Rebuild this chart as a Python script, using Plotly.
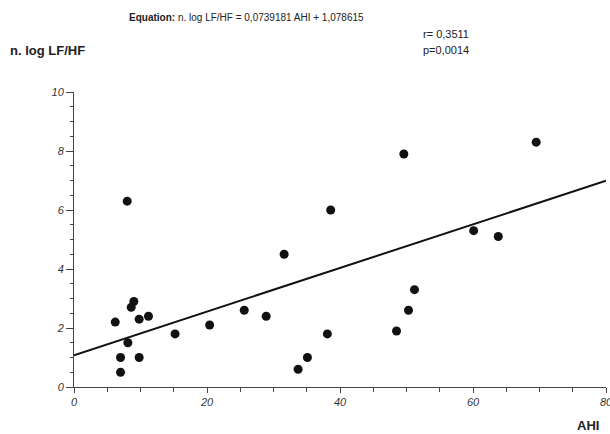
import plotly.graph_objects as go

# AHI vs normalised log LF/HF, one entry per subject
ahi = [8.0, 6.2, 9.0, 8.6, 9.8, 11.2, 8.1, 7.0, 9.8, 7.0, 15.2, 20.4, 25.6,
       28.9, 31.6, 33.7, 35.1, 38.1, 38.6, 49.6, 48.5, 50.3, 51.2, 60.1, 63.8, 69.5]
lf_hf = [6.3, 2.2, 2.9, 2.7, 2.3, 2.4, 1.5, 1.0, 1.0, 0.5, 1.8, 2.1, 2.6,
         2.4, 4.5, 0.6, 1.0, 1.8, 6.0, 7.9, 1.9, 2.6, 3.3, 5.3, 5.1, 8.3]

# regression line: n. log LF/HF = slope * AHI + intercept
slope = 0.0739181
intercept = 1.078615
fit_x = [0, 80]
fit_y = [slope * v + intercept for v in fit_x]

x_ticks = [0, 20, 40, 60, 80]
y_ticks = [0, 2, 4, 6, 8, 10]

FONT = "Liberation Sans, Arial, sans-serif"
W, H = 610, 434
ML, MR, MT, MB = 74, 4, 92, 47

fig = go.Figure()
fig.add_trace(go.Scatter(x=fit_x, y=fit_y, mode="lines",
                         line=dict(color="#111111", width=2), hoverinfo="skip"))
fig.add_trace(go.Scatter(x=ahi, y=lf_hf, mode="markers",
                         marker=dict(color="#111111", size=9, line=dict(width=0))))

tick_font = dict(family=FONT, size=11, color="#333333", style="italic")

fig.update_xaxes(range=[0, 80], tickvals=x_ticks,
                 ticktext=[f"<i>{v}</i>" for v in x_ticks], ticklabeloverflow="allow",
                 automargin=False,
                 showgrid=False, zeroline=False, showline=True, linecolor="#444444",
                 linewidth=1, ticks="outside", ticklen=5, tickwidth=1, tickcolor="#444444",
                 tickfont=tick_font, minor=dict(dtick=5, ticks="outside", ticklen=4,
                                                tickcolor="#444444", showgrid=False))
fig.update_yaxes(range=[0, 10], tickvals=y_ticks,
                 ticktext=[f"<i>{v}</i>" for v in y_ticks], automargin=False,
                 showgrid=False, zeroline=False, showline=True, linecolor="#444444",
                 linewidth=1, ticks="outside", ticklen=7, tickwidth=1, tickcolor="#444444",
                 tickfont=tick_font, minor=dict(dtick=0.5, ticks="outside", ticklen=3,
                                                tickcolor="#444444", showgrid=False))

# labels placed by page pixel position, converted to plot-area paper coordinates
labels = [
    dict(text="<b>Equation:</b> n. log LF/HF = 0,0739181 AHI + 1,078615",
         x=246, y=18, size=10),
    dict(text="<b>n. log LF/HF</b>", x=8, y=50, xanchor="left", size=13),
    dict(text="r= 0,3511", x=421, y=34, xanchor="left", size=11),
    dict(text="p=0,0014", x=421, y=50, xanchor="left", size=11),
    dict(text="<b>AHI</b>", x=588, y=425, size=13),
]
for a in labels:
    fig.add_annotation(text=a["text"],
                       x=(a["x"] - ML) / (W - ML - MR),
                       y=1 - (a["y"] - MT) / (H - MT - MB),
                       xref="paper", yref="paper", showarrow=False,
                       xanchor=a.get("xanchor", "center"), yanchor="middle",
                       font=dict(family=FONT, size=a["size"], color="#222222"))

fig.update_layout(
    width=W, height=H, showlegend=False,
    paper_bgcolor="white", plot_bgcolor="white",
    margin=dict(l=ML, r=MR, t=MT, b=MB),
)

fig.write_html("out.html")
